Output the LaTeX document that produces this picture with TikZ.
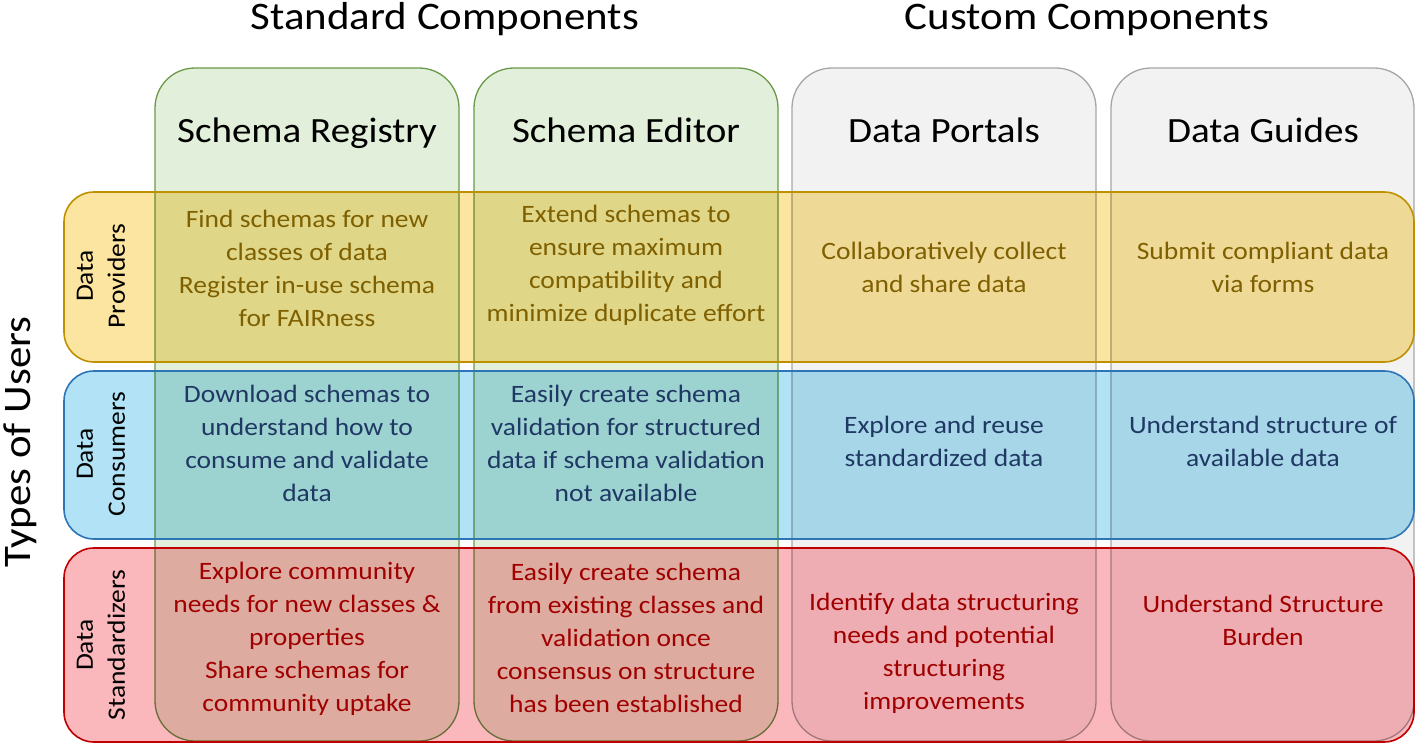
\documentclass[tikz,border=0pt]{standalone}
\usepackage{fontspec}
\setmainfont{Carlito}
\newfontfamily\wide{Carlito}[FakeStretch=1.1]
\definecolor{colgreen}{HTML}{E2EFDA}
\definecolor{colgreenb}{HTML}{6A9A48}
\definecolor{colgray}{HTML}{F2F2F2}
\definecolor{colgrayb}{HTML}{A6A6A6}
\definecolor{rowy}{HTML}{FCE5A0}
\definecolor{rowyb}{HTML}{BF9000}
\definecolor{rowb}{HTML}{B1E2F5}
\definecolor{rowbb}{HTML}{2E75B6}
\definecolor{rowr}{HTML}{FAB7BC}
\definecolor{rowrb}{HTML}{C00000}
\definecolor{ty}{HTML}{7F6000}
\definecolor{tb}{HTML}{1F3864}
\definecolor{tr}{HTML}{A00000}
\begin{document}
\begin{tikzpicture}[x=1pt,y=-1pt,
  colbox/.style={rounded corners=40pt},
  rowbox/.style={rounded corners=30pt},
  colline/.style={line width=1.3pt, rounded corners=40pt},
  rowline/.style={line width=1.6pt, rounded corners=30pt},
  cell/.style={align=center, font=\wide\fontsize{25}{33}\selectfont, inner sep=0pt},
  ycell/.style={cell, text=ty},
  bcell/.style={cell, text=tb},
  rcell/.style={cell, text=tr},
  rowlabel/.style={align=center, rotate=90, font=\wide\fontsize{25}{32}\selectfont, inner sep=0pt},
  coltitle/.style={font=\wide\fontsize{35.5}{42}\selectfont, inner sep=0pt, anchor=base},
  header/.style={font=\wide\fontsize{39}{44}\selectfont, inner sep=0pt}]
\useasboundingbox (0,0) rectangle (1416,744);
% columns fill
\fill[colgreen, colbox] (155,68) rectangle (459,741);
\fill[colgreen, colbox] (474,68) rectangle (778,741);
\fill[colgray, colbox] (792,68) rectangle (1096,741);
\fill[colgray, colbox] (1111,68) rectangle (1414,741);
% column borders
\draw[colgreenb, colline] (155,68) rectangle (459,741);
\draw[colgreenb, colline] (474,68) rectangle (778,741);
\draw[colgrayb, colline] (792,68) rectangle (1096,741);
\draw[colgrayb, colline] (1111,68) rectangle (1414,741);
% rows fill, multiplied over the columns
\begin{scope}[blend mode=multiply]
\fill[rowy, rowbox] (64,192) rectangle (1414,362);
\fill[rowb, rowbox] (64,371) rectangle (1414,539);
\fill[rowr, rowbox] (64,548) rectangle (1414,742);
\end{scope}
% row borders
\draw[rowyb, rowline] (64,192) rectangle (1414,362);
\draw[rowbb, rowline] (64,371) rectangle (1414,539);
\draw[rowrb, rowline] (64,548) rectangle (1414,742);
% headers
\node[header, anchor=base] (hstd) at (445,29) {Standard Components};
\node[header, anchor=base] (hcus) at (1087,29) {Custom Components};
\node[header, rotate=90] (htypes) at (20,442) {Types of Users};
% column titles
\node[coltitle] (t1) at (307,142) {Schema Registry};
\node[coltitle] (t2) at (626,142) {Schema Editor};
\node[coltitle] (t3) at (944,142) {Data Portals};
\node[coltitle] (t4) at (1263,142) {Data Guides};
% row labels
\node[rowlabel] (l1) at (101,276) {Data\\Providers};
\node[rowlabel] (l2) at (101,454) {Data\\Consumers};
\node[rowlabel] (l3) at (101,645) {Data\\Standardizers};
% row 1
\node[ycell] (c11) at (307,268) {Find schemas for new\\classes of data\\Register in-use schema\\for FAIRness};
\node[ycell] (c12) at (626,265) {Extend schemas to\\ensure maximum\\compatibility and\\minimize duplicate effort};
\node[ycell] (c13) at (944,267) {Collaboratively collect\\and share data};
\node[ycell] (c14) at (1263,267) {Submit compliant data\\via forms};
% row 2
\node[bcell] (c21) at (307,443) {Download schemas to\\understand how to\\consume and validate\\data};
\node[bcell] (c22) at (626,443) {Easily create schema\\validation for structured\\data if schema validation\\not available};
\node[bcell] (c23) at (944,441) {Explore and reuse\\standardized data};
\node[bcell] (c24) at (1263,441) {Understand structure of\\available data};
% row 3
\node[rcell] (c31) at (307,639) {Explore community\\needs for new classes \&\\properties\\Share schemas for\\community uptake};
\node[rcell] (c32) at (626,638) {Easily create schema\\from existing classes and\\validation once\\consensus on structure\\has been established};
\node[rcell] (c33) at (944,653) {Identify data structuring\\needs and potential\\structuring\\improvements};
\node[rcell] (c34) at (1263,620) {Understand Structure\\Burden};
\end{tikzpicture}
\end{document}
